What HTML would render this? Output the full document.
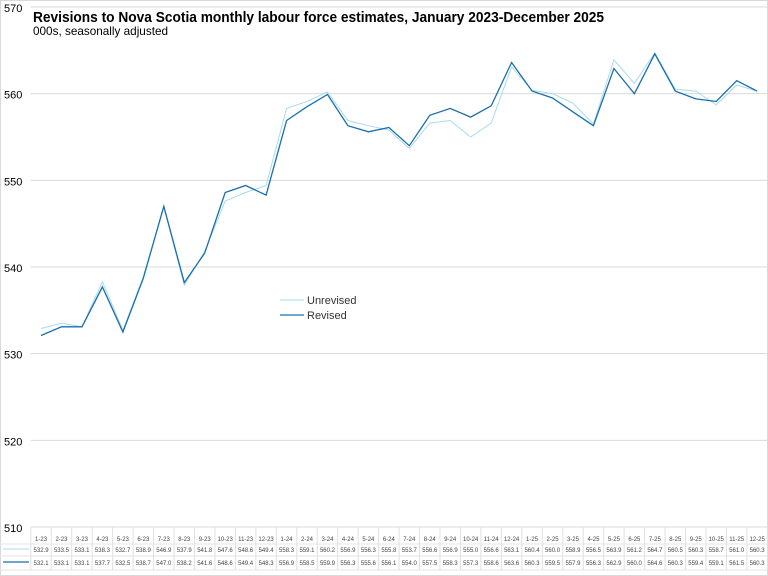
<!DOCTYPE html>
<html><head><meta charset="utf-8"><style>
body{margin:0;background:#fff}
svg{display:block;font-family:"Liberation Sans",sans-serif}
</style></head><body>
<svg id="s" width="768" height="576" xmlns="http://www.w3.org/2000/svg"></svg>
<script>
const U=[532.9,533.5,533.1,538.3,532.7,538.9,546.9,537.9,541.8,547.6,548.6,549.4,558.3,559.1,560.2,556.9,556.3,555.8,553.7,556.6,556.9,555.0,556.6,563.1,560.4,560.0,558.9,556.5,563.9,561.2,564.7,560.5,560.3,558.7,561.0,560.3];
const R=[532.1,533.1,533.1,537.7,532.5,538.7,547.0,538.2,541.6,548.6,549.4,548.3,556.9,558.5,559.9,556.3,555.6,556.1,554.0,557.5,558.3,557.3,558.6,563.6,560.3,559.5,557.9,556.3,562.9,560.0,564.6,560.3,559.4,559.1,561.5,560.3];
const L=[];for(let y=23;y<=25;y++)for(let m=1;m<=12;m++)L.push(m+'-'+y);
const x0=30.8,cw=20.46,yT=7,yB=527;
const RC="#1a6fae",UC="#a9daf0";
const Y=v=>yB-(v-510)*(yB-yT)/60, X=i=>x0+cw*(i+0.5);
let h='<rect x="0.5" y="0.5" width="767" height="575" fill="#fff" stroke="#d9d9d9"/>';
for(let v=510;v<=570;v+=10){const y=Y(v);h+=`<line x1="${x0}" x2="768" y1="${y}" y2="${y}" stroke="#d9d9d9"/><text x="4" y="${y+5}" font-size="11" fill="#000">${v}</text>`;}
h+=`<line x1="0" x2="768" y1="544" y2="544" stroke="#e6e6e6"/><line x1="0" x2="768" y1="556" y2="556" stroke="#e6e6e6"/><line x1="0" x2="768" y1="570" y2="570" stroke="#e6e6e6"/>`;
for(let i=0;i<=36;i++){const x=x0+cw*i;h+=`<line x1="${x}" x2="${x}" y1="527" y2="570" stroke="#e0e0e0"/>`;}
for(let i=0;i<36;i++){const x=X(i);
h+=`<text x="${x}" y="541" font-size="6" text-anchor="middle" fill="#444">${L[i]}</text>`;
h+=`<text x="${x}" y="552" font-size="6" text-anchor="middle" fill="#444">${U[i].toFixed(1)}</text>`;
h+=`<text x="${x}" y="565" font-size="6" text-anchor="middle" fill="#444">${R[i].toFixed(1)}</text>`;}
h+=`<line x1="3" x2="29" y1="549" y2="549" stroke="${UC}"/><line x1="3" x2="29" y1="562" y2="562" stroke="${RC}" stroke-width="1.3"/>`;
const P=a=>a.map((v,i)=>X(i).toFixed(1)+','+Y(v).toFixed(1)).join(' ');
h+=`<polyline points="${P(U)}" fill="none" stroke="${UC}" stroke-width="1"/>`;
h+=`<polyline points="${P(R)}" fill="none" stroke="${RC}" stroke-width="1.3"/>`;
h+=`<line x1="280" x2="304" y1="300" y2="300" stroke="${UC}"/><text x="307" y="304" font-size="11" fill="#333">Unrevised</text>`;
h+=`<line x1="280" x2="304" y1="315" y2="315" stroke="${RC}" stroke-width="1.3"/><text x="307" y="319" font-size="11" fill="#333">Revised</text>`;
h+=`<text x="33" y="22" font-size="15" font-weight="bold" textLength="571" lengthAdjust="spacingAndGlyphs">Revisions to Nova Scotia monthly labour force estimates, January 2023-December 2025</text>`;
h+=`<text x="33" y="35" font-size="12" textLength="135" lengthAdjust="spacingAndGlyphs">000s, seasonally adjusted</text>`;
document.getElementById('s').innerHTML=h;
</script>
</body></html>
